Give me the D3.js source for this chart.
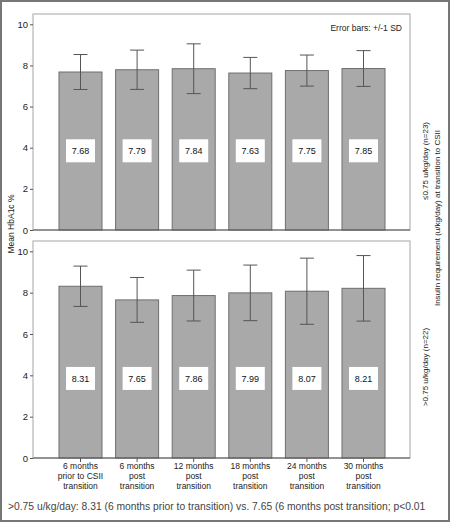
<!DOCTYPE html>
<html><head><meta charset="utf-8">
<script src="https://cdn.jsdelivr.net/npm/d3@7"></script>
<style>
html,body{margin:0;padding:0;background:#fff;}
svg{display:block;font-family:"Liberation Sans",Arial,sans-serif;}
</style></head>
<body>
<svg id="chart" width="450" height="522"></svg>
<script>
// ---- data ----
const categories = [
  ["6 months", "prior to CSII", "transition"],
  ["6 months", "post", "transition"],
  ["12 months", "post", "transition"],
  ["18 months", "post", "transition"],
  ["24 months", "post", "transition"],
  ["30 months", "post", "transition"]
];
const lowMeans  = [7.68, 7.79, 7.84, 7.63, 7.75, 7.85];
const lowSD     = [0.85, 0.955, 1.21, 0.76, 0.755, 0.87];
const highMeans = [8.31, 7.65, 7.86, 7.99, 8.07, 8.21];
const highSD    = [0.975, 1.085, 1.23, 1.345, 1.6, 1.585];
const yTicks = [0, 2, 4, 6, 8, 10];
const labelLevel = 3.85;
const topLabel = "\u22640.75 u/kg/day (n=23)";
const bottomLabel = ">0.75 u/kg/day (n=22)";
const sideLabel = "Insulin requirement (u/kg/day) at transition to CSII";
const yLabel = "Mean HbA1c %";
const noteText = "Error bars: +/-1 SD";
const footText = ">0.75 u/kg/day: 8.31 (6 months prior to transition) vs. 7.65 (6 months post transition; p<0.01";

// ---- drawing ----
const svg = d3.select("#chart");
svg.append("rect").attr("x",1).attr("y",1).attr("width",448).attr("height",520)
  .attr("fill","#fff").attr("stroke","#777").attr("stroke-width",2);

const left = 33, right = 410;
const idx = categories.map((d,i)=>i);
const x = d3.scaleBand().domain(idx).range([52.2, 391.8]).paddingInner(0.24).paddingOuter(0.12);

function panel(top, bottom, means, sds, showX) {
  const y = d3.scaleLinear().domain([0, 10.5]).range([bottom, top]);
  const g = svg.append("g");
  g.append("rect").attr("x",left).attr("y",top).attr("width",right-left).attr("height",bottom-top)
    .attr("fill","#fff").attr("stroke","#b5b5b5").attr("stroke-width",1.2);
  // y axis
  const ya = g.append("g").attr("transform",`translate(${left},0)`)
    .call(d3.axisLeft(y).tickValues(yTicks).tickSize(3).tickPadding(2).tickFormat(d3.format("d")));
  ya.select(".domain").remove();
  ya.selectAll(".tick line").attr("stroke","#555");
  ya.selectAll(".tick text").attr("fill","#222").style("font-size","9.5px").style("font-family","Liberation Sans, Arial, sans-serif");
  // bars
  g.selectAll(".bar").data(means).join("rect")
    .attr("x",(d,i)=>x(i)).attr("y",d=>y(d)).attr("width",x.bandwidth()).attr("height",d=>y(0)-y(d))
    .attr("fill","#a9a9a9").attr("stroke","#6e6e6e").attr("stroke-width",1);
  // baseline
  g.append("line").attr("x1",left).attr("x2",right).attr("y1",y(0)).attr("y2",y(0))
    .attr("stroke","#555").attr("stroke-width",1.2);
  // error bars
  const cx = i => x(i) + x.bandwidth()/2;
  const eb = g.selectAll(".eb").data(means).join("g").attr("stroke","#555").attr("stroke-width",1);
  eb.append("line").attr("x1",(d,i)=>cx(i)).attr("x2",(d,i)=>cx(i))
    .attr("y1",(d,i)=>y(d+sds[i])).attr("y2",(d,i)=>y(d-sds[i]));
  eb.append("line").attr("x1",(d,i)=>cx(i)-7).attr("x2",(d,i)=>cx(i)+7)
    .attr("y1",(d,i)=>y(d+sds[i])).attr("y2",(d,i)=>y(d+sds[i]));
  eb.append("line").attr("x1",(d,i)=>cx(i)-7).attr("x2",(d,i)=>cx(i)+7)
    .attr("y1",(d,i)=>y(d-sds[i])).attr("y2",(d,i)=>y(d-sds[i]));
  // value boxes
  const vb = g.selectAll(".vb").data(means).join("g");
  vb.append("rect").attr("x",(d,i)=>cx(i)-14.5).attr("y",y(labelLevel)-11.5).attr("width",29).attr("height",23)
    .attr("fill","#fff");
  vb.append("text").attr("x",(d,i)=>cx(i)).attr("y",y(labelLevel)+3.2).attr("text-anchor","middle")
    .style("font-size","9px").attr("fill","#111").text(d=>d.toFixed(2));
  if (showX) {
    const xa = g.append("g").attr("transform",`translate(0,${y(0)})`)
      .call(d3.axisBottom(x).tickSize(4).tickFormat(""));
    xa.select(".domain").remove();
    xa.selectAll(".tick line").attr("stroke","#555");
    const lab = g.selectAll(".xl").data(categories).join("text")
      .attr("text-anchor","middle").style("font-size","8.5px").attr("fill","#222");
    lab.each(function(lines,i){
      const t = d3.select(this);
      lines.forEach((s,k)=>{
        t.append("tspan").attr("x",cx(i)).attr("y",y(0)+10.5+k*10).text(s);
      });
    });
  }
  return y;
}

panel(14, 230, lowMeans, lowSD, false);
panel(241, 458, highMeans, highSD, true);

svg.append("text").attr("x",402).attr("y",31).attr("text-anchor","end")
  .style("font-size","8.5px").attr("fill","#222").text(noteText);

svg.append("text").attr("transform","translate(14,224) rotate(-90)").attr("text-anchor","middle")
  .style("font-size","8.5px").attr("fill","#222").text(yLabel);

svg.append("text").attr("transform","translate(428,161) rotate(-90)").attr("text-anchor","middle")
  .style("font-size","8px").attr("fill","#222").text(topLabel);
svg.append("text").attr("transform","translate(428,367) rotate(-90)").attr("text-anchor","middle")
  .style("font-size","8px").attr("fill","#222").text(bottomLabel);
svg.append("text").attr("transform","translate(440,218) rotate(-90)").attr("text-anchor","middle")
  .style("font-size","8px").attr("fill","#222").text(sideLabel);

svg.append("text").attr("x",8).attr("y",510)
  .style("font-size","10.3px").attr("fill","#444").text(footText);
</script>
</body></html>
